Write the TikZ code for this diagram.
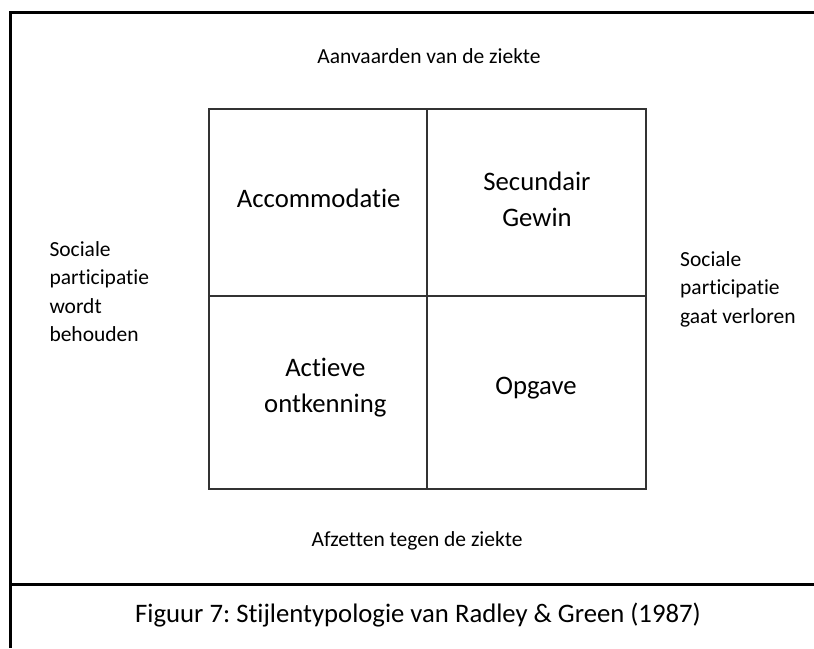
\documentclass[tikz,border=0pt]{standalone}
\usepackage{fontspec}
\setmainfont{Carlito}[Ligatures={NoCommon,NoContextual}]
\frenchspacing
\begin{document}
\begin{tikzpicture}[x=1pt,y=-1pt,
  frame/.style={line width=2.6pt, black},
  cell/.style={draw=black!80, line width=1.4pt, minimum width=#1, inner sep=0pt},
  celltext/.style={font=\fontsize{26.7}{36}\selectfont, align=center, anchor=base},
  sidetext/.style={font=\fontsize{21.5}{28.5}\selectfont, align=left, anchor=base west, inner sep=0pt},
  axistext/.style={font=\fontsize{21.5}{28.5}\selectfont, anchor=base},
  captext/.style={font=\fontsize{26.7}{36}\selectfont, anchor=base},
]
\useasboundingbox (0,0) rectangle (814,648);
\fill[white] (0,0) rectangle (814,648);

% outer frame, open to the right and bottom, with the caption divider
\coordinate (fbl) at (10.7,648);
\coordinate (ftl) at (10.7,12.5);
\coordinate (ftr) at (814,12.5);
\coordinate (dl) at (10.7,584.5);
\coordinate (dr) at (814,584.5);
\draw[frame] (fbl) -- (ftl) -- (ftr);
\draw[frame] (dl) -- (dr);

% the four quadrants
\node[cell=218pt, minimum height=187pt] (c11) at (318,202.5) {};
\node[cell=219pt, minimum height=187pt] (c12) at (536.5,202.5) {};
\node[cell=218pt, minimum height=193pt] (c21) at (318,392.5) {};
\node[cell=219pt, minimum height=193pt] (c22) at (536.5,392.5) {};

% quadrant labels (multi-line nodes sit on the baseline of their last line)
\node[celltext] (acc) at (318.7,207.3) {Accommodatie};
\node[celltext] (sec) at (537,226) {Secundair\\Gewin};
\node[celltext] (act) at (325.3,412.7) {Actieve\\ontkenning};
\node[celltext] (opg) at (536,394) {Opgave};

% axis labels
\node[axistext] (top) at (429,63.3) {Aanvaarden van de ziekte};
\node[axistext] (bot) at (417,546.7) {Afzetten tegen de ziekte};
\node[sidetext] (lft) at (49.3,341.7) {Sociale\\participatie\\wordt\\behouden};
\node[sidetext] (rgt) at (680,323.3) {Sociale\\participatie\\gaat verloren};

% caption
\node[captext] (cap) at (418,622) {Figuur 7: Stijlentypologie van Radley \& Green (1987)};
\end{tikzpicture}
\end{document}
